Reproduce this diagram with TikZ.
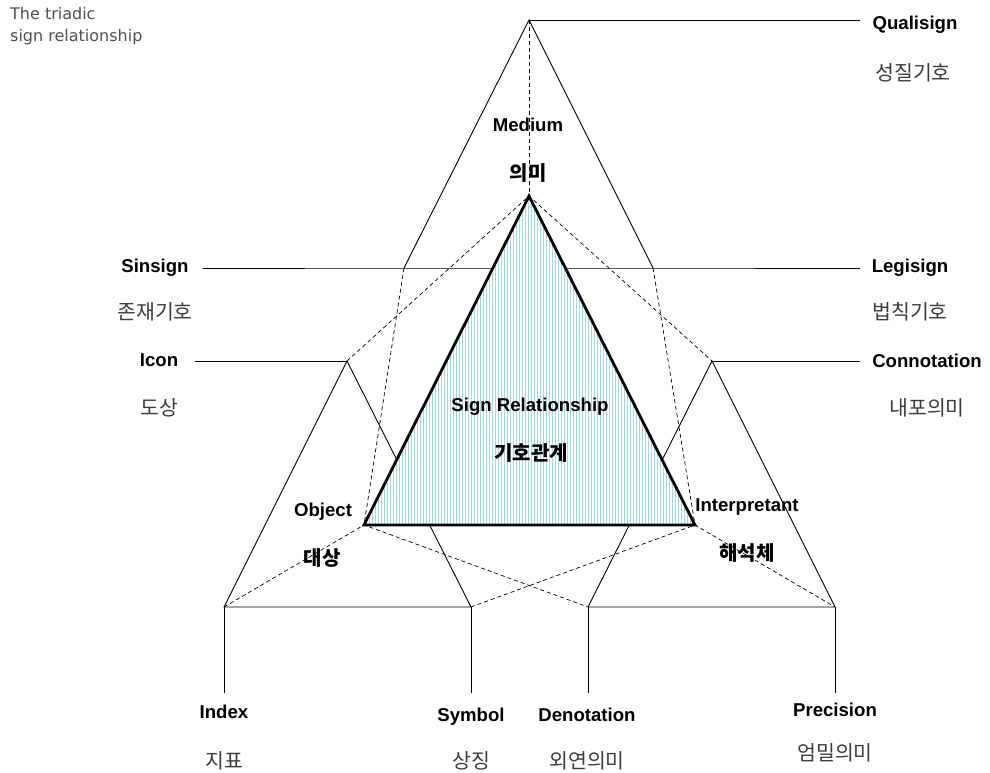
\documentclass[tikz,border=0pt]{standalone}
\usepackage{fontspec}
\setmainfont{Liberation Sans}
\newfontfamily\notefont{DejaVu Sans}
\newfontfamily\kr{Noto Sans CJK KR}
\usetikzlibrary{patterns.meta}
\definecolor{stripe}{HTML}{A8D8E2}
\definecolor{krgray}{HTML}{3C3C3C}
\definecolor{notegray}{HTML}{505050}
\begin{document}
\begin{tikzpicture}[x=1pt,y=-1pt,
  lbl/.style={font=\bfseries\fontsize{18.6}{21}\selectfont, inner sep=0pt, text height=.716em, text depth=0pt, yshift=-2pt},
  krl/.style={font=\kr\fontsize{20.5}{22}\selectfont, text=krgray, inner sep=0pt, text height=.8em, text depth=.08em, yshift=-4pt},
  krb/.style={font=\kr\bfseries\fontsize{20}{22}\selectfont, inner sep=0pt, text height=.8em, text depth=.08em, yshift=-4pt},
  edgeline/.style={line width=0.9pt},
  dsh/.style={line width=0.7pt, dash pattern=on 4pt off 3pt},
  mainline/.style={line width=2.8pt, line join=miter}]
\useasboundingbox (0,0) rectangle (990,773);

% vertices
\coordinate (Q) at (529,20);
\coordinate (M) at (529,196);
\coordinate (O) at (364,525);
\coordinate (I) at (695,525);
\coordinate (TL) at (404,268);
\coordinate (TR) at (653,268);
\coordinate (IC) at (347,361);
\coordinate (CN) at (712,361);
\coordinate (B1) at (224,607);
\coordinate (B2) at (471,607);
\coordinate (B3) at (588,607);
\coordinate (B4) at (835,607);
\coordinate (B1e) at (224,693);
\coordinate (B2e) at (471,693);
\coordinate (B3e) at (588,693);
\coordinate (B4e) at (835,693);
\coordinate (qualE) at (860,20);
\coordinate (sinsE) at (203,268);
\coordinate (legE) at (860,268);
\coordinate (iconE) at (195,361);
\coordinate (connE) at (860,361);

% solid lines
\draw[edgeline] (TL) -- (Q) -- (TR);
\draw[edgeline] (Q) -- (qualE);
\draw[edgeline] (sinsE) -- (TL) -- (TR) -- (legE);
\draw[edgeline] (iconE) -- (IC);
\draw[edgeline] (CN) -- (connE);
\draw[edgeline, line join=miter] (B2) -- (IC) -- (B1) -- (B2);
\draw[edgeline, line join=miter] (B3) -- (CN) -- (B4) -- (B3);
\draw[edgeline] (B1) -- (B1e);
\draw[edgeline] (B2) -- (B2e);
\draw[edgeline] (B3) -- (B3e);
\draw[edgeline] (B4) -- (B4e);

% dashed lines
\draw[dsh] (Q) -- (M);
\draw[dsh] (IC) -- (M) -- (CN);
\draw[dsh] (TL) -- (O);
\draw[dsh] (TR) -- (I);
\draw[dsh] (B1) -- (O) -- (B3);
\draw[dsh] (B2) -- (I) -- (B4);

% central triangle
\fill[white] (M) -- (O) -- (I) -- cycle;
\fill[pattern={Lines[angle=90,distance=3pt,line width=0.9pt]}, pattern color=stripe] (M) -- (O) -- (I) -- cycle;
\draw[mainline] (M) -- (O) -- (I) -- cycle;

% note
\node[anchor=north west, inner sep=0pt, align=left, text=notegray, font=\notefont\fontsize{16}{22.5}\selectfont] (note) at (10,7) {The triadic\\sign relationship};

% labels
\node[lbl] (qual) at (915,24) {Qualisign};
\node[krl] (qualk) at (913,73) {성질기호};
\node[lbl] (med) at (528,126) {Medium};
\node[krb] (medk) at (528,173) {의미};
\node[lbl] (sins) at (155,267) {Sinsign};
\node[krl] (sinsk) at (155,312) {존재기호};
\node[lbl] (leg) at (910,267) {Legisign};
\node[krl] (legk) at (910,312) {법칙기호};
\node[lbl] (icon) at (159,361) {Icon};
\node[krl] (iconk) at (159,408) {도상};
\node[lbl] (conn) at (927,362) {Connotation};
\node[krl] (connk) at (927,408) {내포의미};
\node[lbl] (sign) at (530,406) {Sign Relationship};
\node[krb] (signk) at (531,453) {기호관계};
\node[lbl] (obj) at (323,511) {Object};
\node[krb] (objk) at (322,558) {대상};
\node[lbl] (interp) at (747,506) {Interpretant};
\node[krb] (interpk) at (747,553) {해석체};
\node[lbl] (index) at (224,713) {Index};
\node[krl] (indexk) at (224,761) {지표};
\node[lbl] (symb) at (471,716) {Symbol};
\node[krl] (symbk) at (471,761) {상징};
\node[lbl] (deno) at (587,716) {Denotation};
\node[krl] (denok) at (587,761) {외연의미};
\node[lbl] (prec) at (835,711) {Precision};
\node[krl] (preck) at (835,753) {엄밀의미};
\end{tikzpicture}
\end{document}
